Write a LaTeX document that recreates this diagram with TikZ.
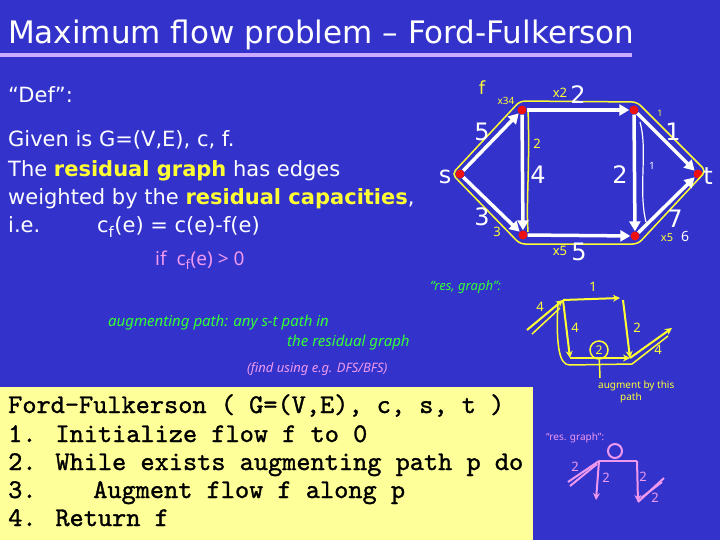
\documentclass[tikz,border=0pt]{standalone}
\usepackage{fontspec}
\setmainfont{DejaVu Sans}
\newfontfamily\handfont{Noto Sans}
\newfontfamily\codefont[FakeBold=1.2]{lmmono10-regular.otf}
\usetikzlibrary{arrows.meta}
\definecolor{bg}{HTML}{3333CC}
\definecolor{lav}{HTML}{CCAAFF}
\definecolor{ylw}{HTML}{FFFF33}
\definecolor{grn}{HTML}{33FF33}
\definecolor{pnk}{HTML}{EE99EE}
\definecolor{codebg}{HTML}{FFFF99}
\definecolor{dotred}{HTML}{EE1111}
\tikzset{
  body/.style={anchor=base west, inner sep=0, text=white, font=\fontsize{21}{24}\selectfont},
  codeline/.style={anchor=base west, inner sep=0, text=black, font=\codefont\fontsize{27}{30}\selectfont},
  vdot/.style={circle, fill=dotred, inner sep=0, minimum size=9},
  edge/.style={white, line width=3.5, -{Triangle[length=10,width=11]}},
  wlab/.style={text=white, inner sep=0, font=\fontsize{24}{26}\selectfont},
  ylab/.style={text=ylw, inner sep=0, font=\handfont\bfseries\fontsize{13}{14}\selectfont},
  yline/.style={ylw, line width=2},
  yarr/.style={ylw, line width=2, -{Stealth[length=7,width=7]}},
  parr/.style={pnk, line width=2, -{Stealth[length=7,width=7]}},
  pline/.style={pnk, line width=2},
  grnhand/.style={anchor=base west, inner sep=0, text=grn, font=\handfont\bfseries\itshape\fontsize{15}{16}\selectfont},
  pnkhand/.style={anchor=base west, inner sep=0, text=pnk, font=\handfont\bfseries\itshape\fontsize{13}{14}\selectfont},
}
\begin{document}
\begin{tikzpicture}[x=1pt,y=-1pt]
\useasboundingbox (0,0) rectangle (720,540);
\fill[bg] (0,0) rectangle (720,540);
% title
\fill[lav] (0,53) rectangle (632,57);
\node[anchor=base west, inner sep=0, text=white, font=\fontsize{31}{33}\selectfont] (title) at (8,44) {Maximum flow problem – Ford-Fulkerson};
% definition text
\node[body] (def) at (8,103) {“Def”:};
\node[body] (l1) at (8,147) {Given is G=(V,E), c, f.};
\node[body] (l2) at (8,177) {The \textcolor{ylw}{\bfseries residual graph} has edges};
\node[body] (l3) at (8,205) {weighted by the \textcolor{ylw}{\bfseries residual capacities},};
\node[body] (l4) at (8,233) {i.e.};
\node[body] (l5) at (97,233) {c\textsubscript{f}(e) = c(e)-f(e)};
\node[anchor=base west, inner sep=0, text=pnk, font=\handfont\bfseries\fontsize{19}{20}\selectfont] (ifc) at (155,265) {if\ \ c\textsubscript{f}(e) > 0};
% graph
\node[vdot] (s) at (460,174) {};
\node[vdot] (a) at (522,110) {};
\node[vdot] (b) at (634,110) {};
\node[vdot] (c) at (523,235) {};
\node[vdot] (d) at (635,236) {};
\node[vdot] (t) at (698,174) {};
% yellow hand loop
\draw[ylw, line width=1.5, rounded corners=5] (452,174) -- (520,101) -- (637,102) -- (706,171) -- (638,244) -- (520,244) -- cycle;
\draw[ylw, line width=1.5] (528,108) .. controls (530,170) and (526,200) .. (528,232);
\draw[white, line width=1.2] (640,122) .. controls (648,150) and (638,190) .. (646,222);
\draw[edge] (s) -- (a);
\draw[edge] (s) -- (c);
\draw[edge] (a) -- (c);
\draw[edge] (a) -- (b);
\draw[edge] (b) -- (d);
\draw[edge] (c) -- (d);
\draw[edge] (b) -- (t);
\draw[edge] (d) -- (t);
\node[wlab] (l5w) at (482,132) {5};
\node[wlab] (l3w) at (482,217) {3};
\node[wlab] (l4w) at (538,175) {4};
\node[wlab] (l2t) at (578,95) {2};
\node[wlab] (l2m) at (620,175) {2};
\node[wlab] (l1w) at (673,132) {1};
\node[wlab] (l7w) at (675,219) {7};
\node[wlab] (l5b) at (579,252) {5};
\node[wlab] (sl) at (445,177) {s};
\node[wlab] (tl) at (708,176) {t};
% yellow flow annotations
\node[ylab, font=\handfont\bfseries\fontsize{18}{20}\selectfont] (fl) at (482,88) {f};
\node[ylab, font=\handfont\bfseries\fontsize{10}{11}\selectfont] (x34) at (506,101) {x34};
\node[ylab] (x2) at (560,93) {x2};
\node[ylab] (f2) at (537,144) {2};
\node[ylab, font=\handfont\bfseries\fontsize{9}{10}\selectfont] (f1a) at (660,113) {1};
\node[text=white, inner sep=0, font=\handfont\fontsize{10}{10}\selectfont] (f1b) at (652,166) {1};
\node[ylab] (f3) at (497,232) {3};
\node[ylab] (x5) at (560,251) {x5};
\node[ylab, font=\handfont\bfseries\fontsize{11}{12}\selectfont] (x5b) at (667,238) {x5};
\node[text=white, inner sep=0, font=\handfont\bfseries\fontsize{14}{14}\selectfont] (f6) at (685,237) {6};
% green/pink handwritten notes
\node[grnhand, font=\handfont\bfseries\itshape\fontsize{13}{14}\selectfont] (rg1) at (430,290) {“res, graph”:};
\node[grnhand] (aug1) at (108,326) {augmenting path: any s-t path in};
\node[grnhand] (aug2) at (287,346) {the residual graph};
\node[pnkhand] (find) at (247,372) {(find using e.g. DFS/BFS)};
% yellow augmenting sketch
\coordinate (ya) at (563,300);
\coordinate (yb) at (623,300);
\coordinate (yc) at (570,358);
\coordinate (yd) at (630,358);
\coordinate (yin) at (527,330);
\coordinate (yout) at (672,328);
\draw[yarr] (yin) -- (ya);
\draw[yarr] (ya) -- (620,298);
\draw[yarr] (ya) -- (yc);
\draw[yarr] (yb) -- (yd);
\draw[yarr] (yc) -- (yd);
\draw[yarr] (yd) -- (yout);
\draw[yline, line width=1.5] (558,302) .. controls (556,340) and (558,366) .. (570,365) -- (632,364) -- (668,336);
\draw[yline, line width=1.5] (532,334) -- (560,308);
\node[ylab] (y4a) at (540,307) {4};
\node[ylab] (y1) at (593,287) {1};
\node[ylab] (y4b) at (575,328) {4};
\node[ylab] (y2) at (637,328) {2};
\node[ylab] (y4c) at (658,350) {4};
\node[ylw, draw, line width=1.5, circle, minimum size=18, inner sep=0, text=ylw, font=\handfont\bfseries\fontsize{12}{12}\selectfont] (ycirc) at (599,350) {2};
\node[anchor=north west, inner sep=0, text=ylw, align=left, font=\handfont\bfseries\fontsize{10}{12}\selectfont] (ynote) at (598,381) {augment by this\\\hspace*{22pt}path};
\draw[yline, line width=1.5] (ycirc) -- (600,378);
% pink residual sketch
\node[pnkhand, font=\handfont\bfseries\fontsize{10}{11}\selectfont] (rg2) at (546,440) {“res. graph”:};
\coordinate (pa) at (599,461);
\coordinate (pb) at (637,461);
\draw[pnk, line width=2] (615,451) circle (7);
\draw[pline] (pa) -- (pb);
\draw[pline] (pa) -- (568,482);
\draw[pline] (597,464) -- (570,486);
\draw[parr] (pa) -- (596,500);
\draw[parr] (pb) -- (638,502);
\draw[pline] (638,502) -- (664,478);
\draw[pline] (641,498) -- (662,482);
\node[ylab, text=pnk] (p2a) at (575,467) {2};
\node[ylab, text=pnk] (p2b) at (606,478) {2};
\node[ylab, text=pnk] (p2c) at (643,477) {2};
\node[ylab, text=pnk] (p2d) at (655,498) {2};
% code box
\node[fill=codebg, anchor=north west, inner sep=0, minimum width=533, minimum height=153] (box) at (0,387) {};
\node[codeline] (c1) at (8,413) {Ford-Fulkerson ( G=(V,E), c, s, t )};
\node[codeline] (c2) at (8,442) {1. Initialize flow f to 0};
\node[codeline] (c3) at (8,470) {2. While exists augmenting path p do};
\node[codeline] (c4) at (8,498) {3.\ \ \ \ Augment flow f along p};
\node[codeline] (c5) at (8,526) {4. Return f};
\end{tikzpicture}
\end{document}
